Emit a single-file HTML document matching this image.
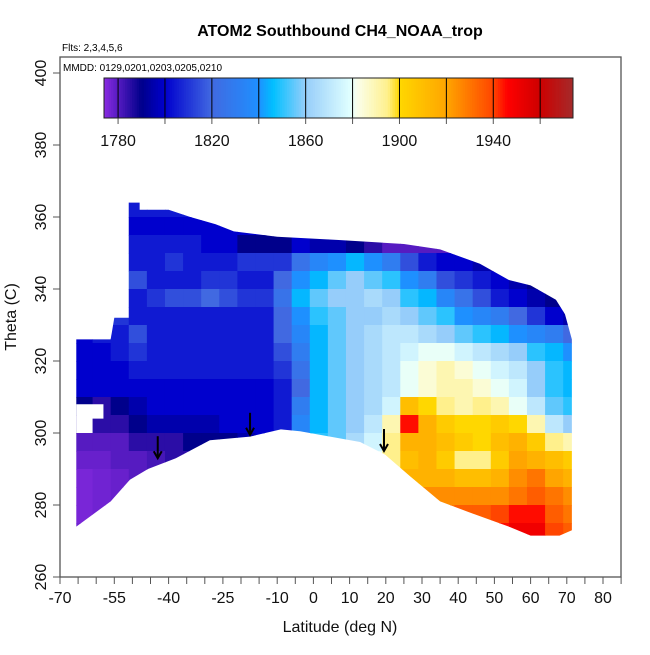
<!DOCTYPE html>
<html><head><meta charset="utf-8"><style>
body{margin:0;background:#fff}
svg text{font-family:"Liberation Sans",sans-serif}
</style></head><body>
<svg id="chart" width="650" height="650" viewBox="0 0 650 650"></svg>
<script>
// ---- data ----
const latCenters=[-63.5,-58.5,-53.5,-48.5,-43.5,-38.5,-33.5,-28.5,-23.5,-18.5,-13.5,-8.5,-3.5,1.5,6.5,11.5,16.5,21.5,26.5,31.5,36.5,41.5,46.5,51.5,56.5,61.5,66.5,71.5];
const thetaCenters=[362.5,357.5,352.5,347.5,342.5,337.5,332.5,327.5,322.5,317.5,312.5,307.5,302.5,297.5,292.5,287.5,282.5,277.5,272.5];
const ch4Values=[
[1805,1805,1805,1805,1805,1805,1805,1805,1800,1800,1800,1800,1800,1800,1800,1800,1800,1800,1800,1800,1800,1800,1800,1800,1800,1800,1800,1800],
[1805,1805,1805,1800,1800,1800,1800,1800,1800,1800,1800,1800,1800,1800,1800,1800,1800,1800,1800,1800,1800,1800,1800,1800,1800,1800,1800,1800],
[1805,1805,1805,1805,1805,1805,1805,1800,1800,1790,1790,1790,1800,1795,1795,1790,1785,1780,1780,1780,1780,1780,1780,1780,1780,1780,1780,1780],
[1805,1805,1815,1805,1805,1810,1805,1805,1805,1810,1810,1810,1825,1835,1840,1845,1840,1830,1815,1805,1800,1800,1795,1785,1785,1785,1785,1785],
[1805,1805,1820,1815,1805,1805,1805,1810,1810,1805,1805,1820,1840,1845,1855,1860,1855,1850,1840,1830,1815,1810,1805,1800,1795,1790,1785,1785],
[1805,1810,1810,1805,1810,1815,1815,1820,1815,1810,1810,1825,1845,1855,1860,1860,1865,1860,1850,1845,1835,1825,1815,1805,1800,1795,1790,1785],
[1805,1810,1810,1805,1805,1805,1805,1805,1805,1805,1805,1820,1840,1850,1855,1860,1860,1865,1860,1855,1850,1840,1835,1830,1820,1810,1800,1795],
[1800,1805,1805,1815,1805,1805,1805,1805,1805,1805,1805,1820,1835,1845,1855,1860,1865,1870,1870,1865,1860,1855,1850,1845,1840,1835,1830,1820],
[1800,1800,1805,1810,1805,1805,1805,1805,1805,1805,1805,1815,1830,1845,1855,1860,1865,1870,1875,1880,1880,1875,1870,1865,1860,1850,1845,1840],
[1800,1800,1800,1805,1805,1805,1805,1805,1805,1805,1805,1810,1825,1845,1855,1860,1865,1870,1880,1885,1890,1885,1880,1875,1870,1860,1850,1845],
[1800,1800,1800,1800,1800,1800,1800,1800,1800,1800,1800,1805,1820,1845,1855,1860,1865,1870,1880,1885,1890,1890,1885,1880,1875,1860,1850,1845],
[1790,1785,1790,1795,1800,1800,1800,1800,1800,1800,1800,1805,1830,1845,1855,1860,1865,1875,1910,1900,1895,1890,1895,1890,1880,1870,1855,1850],
[1785,1785,1785,1790,1795,1795,1795,1795,1800,1800,1800,1805,1835,1845,1855,1860,1870,1890,1945,1915,1905,1900,1900,1905,1900,1890,1870,1860],
[1780,1780,1780,1785,1785,1785,1790,1790,1790,1795,1800,1815,1840,1850,1855,1865,1875,1895,1915,1915,1910,1905,1900,1910,1915,1905,1895,1890],
[1778,1778,1780,1780,1782,1785,1785,1788,1790,1795,1800,1815,1840,1850,1860,1870,1880,1895,1910,1915,1905,1895,1895,1905,1920,1915,1910,1905],
[1776,1777,1778,1780,1782,1785,1787,1788,1790,1795,1800,1815,1840,1850,1860,1870,1885,1900,1915,1915,1915,1910,1910,1915,1925,1930,1920,1915],
[1776,1777,1778,1780,1782,1785,1787,1788,1790,1795,1800,1815,1840,1850,1860,1870,1885,1905,1920,1925,1925,1925,1925,1925,1930,1935,1930,1925],
[1776,1777,1778,1780,1782,1785,1787,1788,1790,1795,1800,1815,1840,1850,1860,1870,1885,1905,1925,1930,1930,1935,1935,1940,1945,1945,1935,1930],
[1777,1778,1778,1780,1782,1785,1787,1788,1790,1795,1800,1815,1840,1850,1860,1870,1885,1905,1925,1930,1935,1940,1945,1945,1950,1950,1940,1935]
];
const boundaryLat=[-65.5,-56,-55,-51,-51,-48,-48,-40,-34,-27,-22,-10,7,25,35,46,54,60,67,69.5,71.4,71.4,68,60,54,43,35,26.7,19.8,12.9,4.6,-3.7,-9,-17.5,-28.6,-38,-45.7,-50.7,-56,-65.5];
const boundaryTheta=[326,326,332,332,364,364,362,362,360,358,356,354.5,353.6,352.5,351,347,342.5,341,337,333,326,273,271.5,271.5,274,278,281,288,294,297.5,299,300.5,301,299,298,293,290,287,281,274];
const notchLat=[-65.5,-58,-58,-61,-61,-65.5];
const notchTheta=[308,308,304,304,300,300];
const arrowLats=[-43,-17.5,19.5];
const arrowThetas=[293,299.5,295];
const xTickLabels=[-70,-55,-40,-25,-10,0,10,20,30,40,50,60,70,80];
const yTickLabels=[260,280,300,320,340,360,380,400];
const cbTickLabels=[1780,1820,1860,1900,1940];
const cbMin=1774, cbMax=1974;

// ---- scales ----
const X=l=>60+(l+70)*3.62;
const Y=t=>577-(t-260)*3.6;
const CBX=v=>104+(v-cbMin)/(cbMax-cbMin)*469;
const stops=[[1774,[138,43,226]],[1790,[0,0,139]],[1800,[0,0,205]],[1820,[65,105,225]],[1840,[30,144,255]],[1846,[0,191,255]],[1860,[150,205,250]],[1879,[224,255,255]],[1882,[250,255,235]],[1895,[255,240,140]],[1900,[255,215,0]],[1920,[255,165,0]],[1940,[255,69,0]],[1946,[255,0,0]],[1960,[205,0,0]],[1974,[165,42,42]]];
function col(v){
  if(v<=stops[0][0])return `rgb(${stops[0][1]})`;
  for(let i=1;i<stops.length;i++){if(v<=stops[i][0]){const a=stops[i-1],b=stops[i],f=(v-a[0])/(b[0]-a[0]);
    return 'rgb('+a[1].map((c,k)=>Math.round(c+(b[1][k]-c)*f)).join(',')+')';}}
  return `rgb(${stops[stops.length-1][1]})`;
}
const NS='http://www.w3.org/2000/svg';
const svg=document.getElementById('chart');
function mk(tag,attrs,parent){const e=document.createElementNS(NS,tag);for(const k in attrs)e.setAttribute(k,attrs[k]);(parent||svg).appendChild(e);return e;}

// clip
const defs=mk('defs',{});
const cp=mk('clipPath',{id:'dataclip'},defs);
mk('polygon',{points:boundaryLat.map((l,i)=>X(l)+','+Y(boundaryTheta[i])).join(' ')},cp);

const heat=mk('g',{'clip-path':'url(#dataclip)'});


thetaCenters.forEach((t,r)=>{latCenters.forEach((l,c)=>{
  const v=ch4Values[r][c];
  const x0=X(l-2.5),x1=X(l+2.5),y0=Y(t+2.5),y1=Y(t-2.5);
  const rc=mk('rect',{x:x0,y:y0,width:x1-x0+0.5,height:y1-y0+0.5,fill:col(v)},heat);
  
  
});});
const notch=mk('polygon',{points:notchLat.map((l,i)=>X(l)+','+Y(notchTheta[i])).join(' '),fill:'#fff'});



// arrows
arrowLats.forEach((l,i)=>{
  const g=mk('g',{stroke:'#000','stroke-width':2,fill:'none'});
  
  
  const x=X(l),yb=Y(arrowThetas[i]);
  mk('line',{x1:x,y1:yb-22,x2:x,y2:yb},g);
  mk('polyline',{points:`${x-4},${yb-7} ${x},${yb} ${x+4},${yb-7}`},g);
});

// frame
const frame=mk('rect',{x:60,y:57,width:561,height:520,fill:'none',stroke:'#555','stroke-width':1.3});



// x axis ticks
const xa=mk('g',{});


for(let l=-70;l<=85;l+=5){mk('line',{x1:X(l),x2:X(l),y1:577,y2:584,stroke:'#555'},xa);}
xTickLabels.forEach(l=>{const t=mk('text',{x:X(l),y:603,'font-size':16,'text-anchor':'middle',fill:'#111'},xa);t.textContent=l;
  
  });
// y axis
const ya=mk('g',{});


yTickLabels.forEach(v=>{mk('line',{x1:53,x2:60,y1:Y(v),y2:Y(v),stroke:'#555'},ya);
  const t=mk('text',{x:46,y:Y(v),'font-size':16,'text-anchor':'middle',fill:'#111',transform:`rotate(-90 46 ${Y(v)})`},ya);t.textContent=v;
  
  });

// colorbar
const cb=mk('g',{});


for(let v=cbMin;v<cbMax;v+=1){mk('rect',{x:CBX(v),y:78,width:CBX(v+1)-CBX(v)+0.4,height:40,fill:col(v+0.5)},cb);}
for(let v=1780;v<cbMax;v+=20){mk('line',{x1:CBX(v),x2:CBX(v),y1:78,y2:118,stroke:'#000'},cb);
  mk('line',{x1:CBX(v),x2:CBX(v),y1:118,y2:124,stroke:'#555'},cb);}
mk('rect',{x:104,y:78,width:469,height:40,fill:'none',stroke:'#222'},cb);
cbTickLabels.forEach(v=>{const t=mk('text',{x:CBX(v),y:146,'font-size':16,'text-anchor':'middle',fill:'#111'},cb);t.textContent=v;
  
  });
</script>
<svg width="650" height="650" style="position:absolute;left:0;top:0">
<text x="340" y="36" font-size="16" font-weight="bold" text-anchor="middle" fill="#000">ATOM2 Southbound CH4_NOAA_trop</text>
<text x="62" y="51" font-size="10" fill="#000">Flts: 2,3,4,5,6</text>
<text x="63" y="71" font-size="10" fill="#000">MMDD: 0129,0201,0203,0205,0210</text>
<text x="340" y="632" font-size="16" text-anchor="middle" fill="#111">Latitude (deg N)</text>
<text x="16" y="317" font-size="16" text-anchor="middle" fill="#111" transform="rotate(-90 16 317)">Theta (C)</text>
</svg>
</body></html>
